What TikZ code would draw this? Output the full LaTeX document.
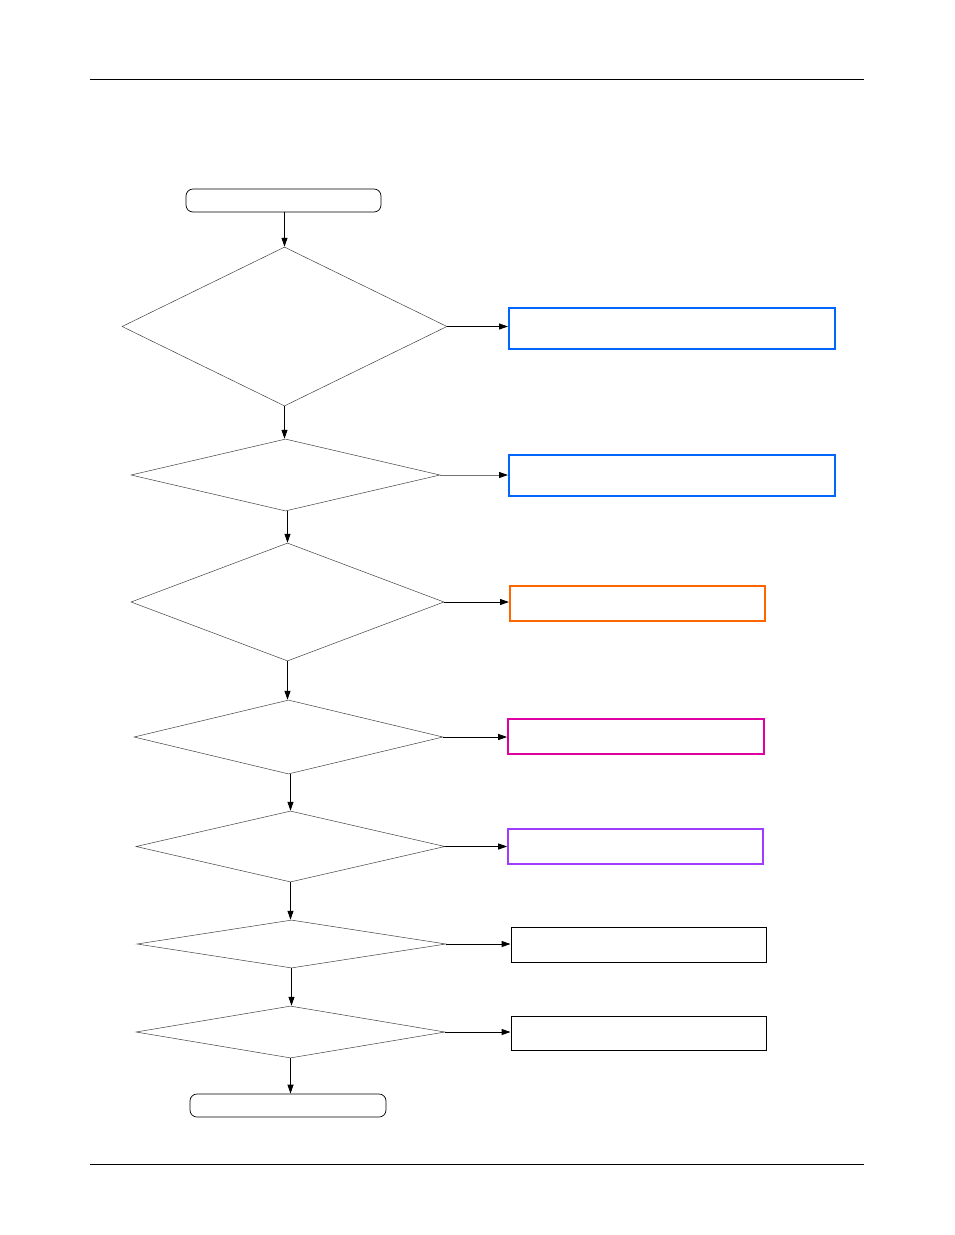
\documentclass[tikz,border=0pt]{standalone}
\usetikzlibrary{shapes.geometric,arrows.meta}
\definecolor{cblue}{RGB}{0,102,255}
\definecolor{corange}{RGB}{255,102,0}
\definecolor{cmagenta}{RGB}{222,0,160}
\definecolor{cpurple}{RGB}{160,60,255}
\begin{document}
\begin{tikzpicture}[x=1pt,y=-1pt,
  dec/.style={diamond,draw=black!75,line width=0.5pt,inner sep=0pt,anchor=center},
  term/.style={rectangle,rounded corners=7pt,draw=black,line width=0.7pt,inner sep=0pt,anchor=center},
  outbox/.style={rectangle,draw=#1,inner sep=0pt,anchor=center},
  arr/.style={-{Triangle[length=9pt,width=6pt,color=black]},line width=0.9pt,black},
  rule/.style={line width=1pt,black}]
\useasboundingbox (0,0) rectangle (954,1235);
\coordinate (hl) at (90,79); \coordinate (hr) at (864,79);
\coordinate (fl) at (90,1164); \coordinate (fr) at (864,1164);
\draw[rule] (hl) -- (hr);
\draw[rule] (fl) -- (fr);
% terminals
\node[term,minimum width=195pt,minimum height=23pt] (start) at (283.5,200.5) {};
\node[term,minimum width=196pt,minimum height=23pt] (stop) at (288,1105.5) {};
% decisions
\node[dec,minimum width=325pt,minimum height=159pt] (d1) at (284.5,326.5) {};
\node[dec,minimum width=309pt,minimum height=72pt] (d2) at (285.5,475) {};
\node[dec,minimum width=313pt,minimum height=118pt] (d3) at (287.5,602) {};
\node[dec,minimum width=309pt,minimum height=74pt] (d4) at (288.5,737) {};
\node[dec,minimum width=309pt,minimum height=71pt] (d5) at (290.5,846.5) {};
\node[dec,minimum width=309pt,minimum height=48pt] (d6) at (291.5,944) {};
\node[dec,minimum width=309pt,minimum height=52pt] (d7) at (290.5,1032) {};
% result boxes
\node[outbox=cblue,line width=2pt,minimum width=326pt,minimum height=41pt] (b1) at (672,328.5) {};
\node[outbox=cblue,line width=2pt,minimum width=326pt,minimum height=41pt] (b2) at (672,475.5) {};
\node[outbox=corange,line width=2pt,minimum width=255pt,minimum height=35pt] (b3) at (637.5,603.5) {};
\node[outbox=cmagenta,line width=1.6pt,minimum width=256pt,minimum height=35pt] (b4) at (636,736.5) {};
\node[outbox=cpurple,line width=1.6pt,minimum width=255pt,minimum height=35pt] (b5) at (635.5,846.5) {};
\node[outbox=black,line width=0.9pt,minimum width=255pt,minimum height=35pt] (b6) at (638.5,944.5) {};
\node[outbox=black,line width=0.9pt,minimum width=255pt,minimum height=34pt] (b7) at (638.5,1033) {};
% vertical flow
\draw[arr] (start.south -| d1.north) -- (d1.north);
\draw[arr] (d1.south) -- (d1.south |- d2.north);
\draw[arr] (d2.south -| d3.north) -- (d3.north);
\draw[arr] (d3.south) -- (d3.south |- d4.north);
\draw[arr] (d4.south -| d5.north) -- (d5.north);
\draw[arr] (d5.south) -- (d5.south |- d6.north);
\draw[arr] (d6.south) -- (d6.south |- d7.north);
\draw[arr] (d7.south) -- (d7.south |- stop.north);
% horizontal arrows
\draw[arr] (d1.east) -- (d1.east -| b1.west);
\draw[arr,draw=black!55] (d2.east) -- (d2.east -| b2.west);
\draw[arr] (d3.east) -- (d3.east -| b3.west);
\draw[arr] (d4.east) -- (d4.east -| b4.west);
\draw[arr] (d5.east) -- (d5.east -| b5.west);
\draw[arr] (d6.east) -- (d6.east -| b6.west);
\draw[arr] (d7.east) -- (d7.east -| b7.west);
\end{tikzpicture}
\end{document}
